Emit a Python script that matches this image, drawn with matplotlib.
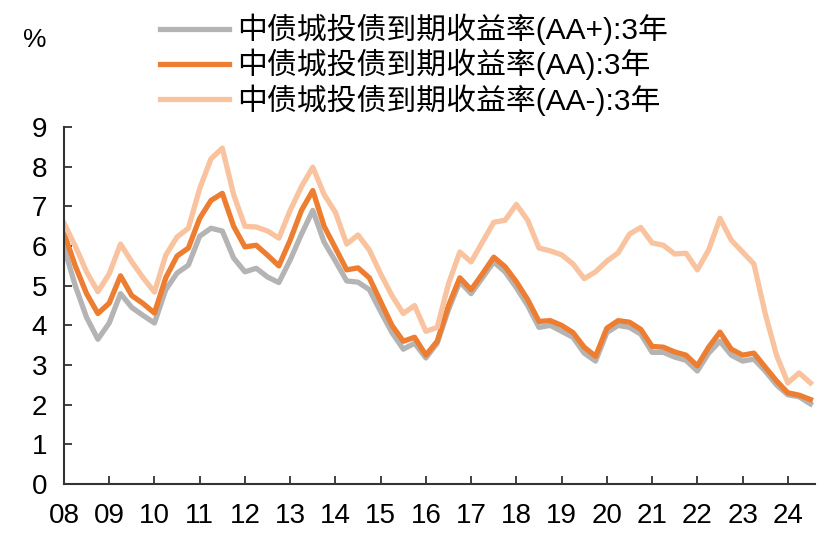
import numpy as np
import pandas as pd
import matplotlib
matplotlib.use('Agg')
import matplotlib.pyplot as plt

plt.rcParams['font.family'] = ['Liberation Sans', 'Noto Sans CJK SC', 'DejaVu Sans']

# quarterly readings, 2008Q1 .. 2024Q3
dates = pd.date_range('2008-01-01', periods=67, freq='QS')

aa_plus = [5.97, 5.0, 4.2, 3.65, 4.06, 4.8, 4.45, 4.25, 4.06, 4.9, 5.32, 5.52,
           6.25, 6.45, 6.38, 5.7, 5.35, 5.44, 5.22, 5.08, 5.65, 6.3, 6.9, 6.1,
           5.62, 5.12, 5.09, 4.9, 4.35, 3.82, 3.4, 3.55, 3.18, 3.55, 4.4, 5.1,
           4.8, 5.2, 5.6, 5.35, 4.95, 4.5, 3.95, 4.0, 3.85, 3.7, 3.3, 3.1,
           3.82, 4.0, 3.95, 3.78, 3.32, 3.32, 3.2, 3.12, 2.85, 3.3, 3.6, 3.25,
           3.1, 3.15, 2.85, 2.5, 2.25, 2.2, 2.02]

aa = [6.33, 5.5, 4.8, 4.3, 4.56, 5.25, 4.75, 4.55, 4.31, 5.2, 5.75, 5.95,
      6.7, 7.15, 7.33, 6.5, 5.98, 6.02, 5.77, 5.5, 6.15, 6.9, 7.4, 6.5,
      5.95, 5.4, 5.45, 5.2, 4.6, 4.0, 3.6, 3.7, 3.25, 3.6, 4.5, 5.2,
      4.9, 5.3, 5.72, 5.48, 5.1, 4.65, 4.1, 4.12, 4.0, 3.82, 3.45, 3.22,
      3.93, 4.12, 4.08, 3.9, 3.47, 3.45, 3.33, 3.25, 2.98, 3.45, 3.83, 3.4,
      3.25, 3.3, 2.95, 2.6, 2.3, 2.24, 2.13]

aa_minus = [6.58, 6.0, 5.35, 4.85, 5.3, 6.05, 5.6, 5.2, 4.84, 5.77, 6.23, 6.45,
            7.45, 8.2, 8.47, 7.3, 6.5, 6.48, 6.38, 6.2, 6.9, 7.5, 7.99, 7.3,
            6.85, 6.05, 6.28, 5.9, 5.3, 4.75, 4.3, 4.5, 3.85, 3.95, 5.05, 5.85,
            5.6, 6.1, 6.6, 6.65, 7.05, 6.65, 5.95, 5.88, 5.78, 5.55, 5.18, 5.35,
            5.62, 5.83, 6.3, 6.47, 6.08, 6.02, 5.8, 5.82, 5.4, 5.9, 6.7, 6.15,
            5.85, 5.55, 4.3, 3.25, 2.55, 2.8, 2.55]

labels = ['中债城投债到期收益率(AA+):3年',
          '中债城投债到期收益率(AA):3年',
          '中债城投债到期收益率(AA-):3年']
colors = ['#b4b4b4', '#ed7d31', '#f8c39e']
years = list(range(2008, 2025))
year_labels = ['%02d' % (y % 100) for y in years]

fig = plt.figure(figsize=(8.35, 5.34), dpi=100)
ax = fig.add_axes([0.0766, 0.0936, 0.8994, 0.6684])

x = dates.year + (dates.month - 1) / 12.0
ax.plot(x, aa_plus, color=colors[0], lw=3.8, label=labels[0])
ax.plot(x, aa, color=colors[1], lw=3.8, label=labels[1])
ax.plot(x, aa_minus, color=colors[2], lw=3.8, label=labels[2])

ax.set_ylim(0, 9)
ax.set_xlim(2008, 2024.6)
ax.set_yticks(range(0, 10))
ax.set_xticks(years)
ax.set_xticklabels(year_labels)
for s in ['top', 'right']:
    ax.spines[s].set_visible(False)
for s in ['left', 'bottom']:
    ax.spines[s].set_color('#333333')
    ax.spines[s].set_linewidth(1.5)
ax.tick_params(direction='in', length=6, width=1.3, color='#333333',
               labelsize=20)
ax.tick_params(axis='y', pad=12)
ax.tick_params(axis='x', pad=14)

fig.text(0.028, 0.925, '%', fontsize=19, ha='left', va='center')

h, l = ax.get_legend_handles_labels()
fig.legend(h, l, loc='upper left', bbox_to_anchor=(0.1916, 0.974), frameon=False,
           fontsize=21.5, handlelength=2.3, handletextpad=0.3, labelspacing=0.12,
           borderpad=0, borderaxespad=0)

fig.savefig('out.png', dpi=100)
